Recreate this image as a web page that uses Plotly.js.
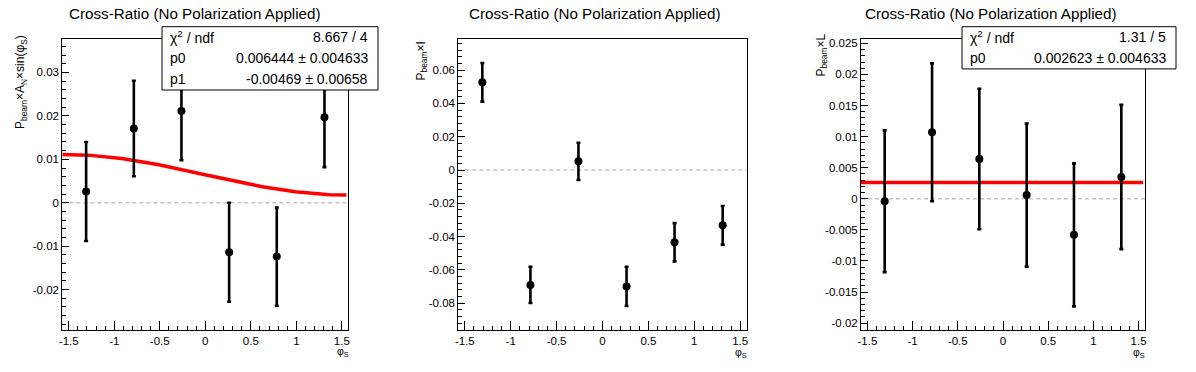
<!DOCTYPE html>
<html>
<head>
<meta charset="utf-8">
<script src="https://cdn.plot.ly/plotly-3.0.1.min.js"></script>
<style>
html,body{margin:0;padding:0;background:#fff;}
#chart{width:1196px;height:372px;}
</style>
</head>
<body>
<div id="chart"></div>
<script>
// ---- data ----
const phiS = [-1.309, -0.785, -0.262, 0.262, 0.785, 1.309];

const anSin = [0.0026, 0.0171, 0.0211, -0.0114, -0.0124, 0.0197];
const anSinErr = [0.0114, 0.0110, 0.0113, 0.0114, 0.0113, 0.0115];

const iVal = [0.0527, -0.0690, 0.0052, -0.0699, -0.0434, -0.0332];
const iErr = [0.0116, 0.0109, 0.0112, 0.0118, 0.0115, 0.0116];

const lVal = [-0.0004, 0.0107, 0.0064, 0.0006, -0.0058, 0.0035];
const lErr = [0.0114, 0.0111, 0.0113, 0.0115, 0.0115, 0.0116];

// fit parameters (from stat boxes)
const fit1 = {chi2: "8.667 / 4", p0: 0.006444, p0e: 0.004633, p1: -0.00469, p1e: 0.00658};
const fit3 = {chi2: "1.31 / 5", p0: 0.002623, p0e: 0.004633};
const fitRange = [-1.5708, 1.55];

// tick labels
const xTickVals = [-1.5, -1, -0.5, 0, 0.5, 1, 1.5];
const xTickText = ["-1.5", "-1", "-0.5", "0", "0.5", "1", "1.5"];
const y1TickVals = [-0.02, -0.01, 0, 0.01, 0.02, 0.03];
const y1TickText = ["-0.02", "-0.01", "0", "0.01", "0.02", "0.03"];
const y2TickVals = [-0.08, -0.06, -0.04, -0.02, 0, 0.02, 0.04, 0.06];
const y2TickText = ["-0.08", "-0.06", "-0.04", "-0.02", "0", "0.02", "0.04", "0.06"];
const y3TickVals = [-0.02, -0.015, -0.01, -0.005, 0, 0.005, 0.01, 0.015, 0.02, 0.025];
const y3TickText = ["-0.02", "-0.015", "-0.01", "-0.005", "0", "0.005", "0.01", "0.015", "0.02", "0.025"];

const titleText = "Cross-Ratio (No Polarization Applied)";
const yLabels = ["P<sub>beam</sub>×A<sub>N</sub>×sin(φ<sub>S</sub>)", "P<sub>beam</sub>×I", "P<sub>beam</sub>×L"];
const xLabel = "φ<sub>S</sub>";

// ---- geometry helpers ----
const W = 1196, H = 372;
const px = v => v / W;
const py = v => 1 - v / H;
const FONT = "Liberation Sans, Arial, Helvetica, sans-serif";

// fit curve for panel 1 (fit model evaluated with the stat-box parameters)
const fitX = [];
const nS = 100;
for (let i = 0; i <= nS; i++) fitX.push(fitRange[0] + (fitRange[1] - fitRange[0]) * i / nS);
const fitY = fitX.map(x => fit1.p0 + fit1.p1 * Math.sin(x));

function pts(y, e, xa, ya) {
  return {
    x: phiS, y: y, xaxis: xa, yaxis: ya, type: 'scatter', mode: 'markers',
    marker: {color: 'black', size: 8},
    error_y: {type: 'data', array: e, visible: true, color: 'black', thickness: 2.6, width: 2},
    showlegend: false, hoverinfo: 'x+y'
  };
}

const traces = [
  {x: fitX, y: fitY, xaxis: 'x', yaxis: 'y', type: 'scatter', mode: 'lines',
   line: {color: '#ff0000', width: 3.5}, showlegend: false},
  pts(anSin, anSinErr, 'x', 'y'),
  pts(iVal, iErr, 'x2', 'y2'),
  {x: fitRange, y: [fit3.p0, fit3.p0], xaxis: 'x3', yaxis: 'y3', type: 'scatter', mode: 'lines',
   line: {color: '#ff0000', width: 3.5}, showlegend: false},
  pts(lVal, lErr, 'x3', 'y3')
];

const yTop = 39, yBot = 330;
const panels = [
  {l: 62.3, r: 348.3, yr: [-0.0293, 0.0377], tv: y1TickVals, tt: y1TickText, minor: 0.002},
  {l: 458.3, r: 746.7, yr: [-0.0961, 0.0787], tv: y2TickVals, tt: y2TickText, minor: 0.004},
  {l: 861, r: 1145, yr: [-0.0211, 0.0257], tv: y3TickVals, tt: y3TickText, minor: 0.001}
];

const layout = {
  width: W, height: H,
  margin: {l: 0, r: 0, t: 0, b: 0},
  paper_bgcolor: '#fff', plot_bgcolor: '#fff',
  font: {family: FONT, size: 11.5, color: 'black'},
  showlegend: false,
  shapes: [], annotations: []
};

panels.forEach((p, i) => {
  const n = i === 0 ? '' : String(i + 1);
  layout['xaxis' + n] = {
    domain: [px(p.l), px(p.r)], anchor: 'y' + n,
    range: [-1.5708, 1.5708],
    tickmode: 'array', tickvals: xTickVals, ticktext: xTickText,
    ticks: 'inside', ticklen: 9, tickwidth: 1, tickcolor: 'black',
    minor: {tickmode: 'linear', tick0: 0, dtick: 0.1, ticks: 'inside', ticklen: 4.5, tickcolor: 'black', showgrid: false},
    showline: true, linecolor: 'black', linewidth: 1, mirror: true,
    showgrid: false, zeroline: false,
    tickfont: {family: FONT, size: 11.5, color: 'black'}
  };
  layout['yaxis' + n] = {
    domain: [py(yBot), py(yTop)], anchor: 'x' + n,
    range: p.yr,
    tickmode: 'array', tickvals: p.tv, ticktext: p.tt,
    ticks: 'inside', ticklen: 7, tickwidth: 1, tickcolor: 'black',
    minor: {tickmode: 'linear', tick0: 0, dtick: p.minor, ticks: 'inside', ticklen: 3.5, tickcolor: 'black', showgrid: false},
    showline: true, linecolor: 'black', linewidth: 1, mirror: true,
    showgrid: false, zeroline: false,
    tickfont: {family: FONT, size: 11.5, color: 'black'}
  };
  // dashed zero line
  layout.shapes.push({type: 'line', xref: 'x' + n + ' domain', yref: 'y' + n, x0: 0, x1: 1, y0: 0, y1: 0,
    line: {color: '#c4c4c4', width: 1.6, dash: '4px,3px'}, layer: 'below'});
});

// titles
[195, 595, 991].forEach(cx => {
  layout.annotations.push({text: titleText, xref: 'paper', yref: 'paper', x: px(cx), y: py(14),
    xanchor: 'center', yanchor: 'middle', showarrow: false, font: {family: FONT, size: 15.2, color: 'black'}});
});

// y labels
const yLab = [{x: 21, top: 33}, {x: 421, top: 40}, {x: 821, top: 32}];
yLab.forEach((o, i) => {
  layout.annotations.push({text: yLabels[i], xref: 'paper', yref: 'paper', x: px(o.x), y: py(o.top),
    xanchor: 'center', yanchor: 'top', textangle: -90, showarrow: false,
    font: {family: FONT, size: 12, color: 'black'}});
});

// x labels
[{x: 343, y: 352}, {x: 741, y: 353}, {x: 1139, y: 353}].forEach(o => {
  layout.annotations.push({text: xLabel, xref: 'paper', yref: 'paper', x: px(o.x), y: py(o.y),
    xanchor: 'center', yanchor: 'middle', showarrow: false, font: {family: FONT, size: 10.5, color: 'black'}});
});

// stat boxes
function statBox(l, r, t, rows) {
  const b = t + 21.1 * rows.length;
  layout.shapes.push({type: 'rect', xref: 'paper', yref: 'paper', x0: px(l), x1: px(r), y0: py(b), y1: py(t),
    line: {color: 'black', width: 1}, fillcolor: 'white', layer: 'above'});
  rows.forEach((row, k) => {
    const cy = t + 21.1 * (k + 0.5);
    layout.annotations.push({text: row[0], xref: 'paper', yref: 'paper', x: px(l + 6), y: py(cy),
      xanchor: 'left', yanchor: 'middle', showarrow: false, font: {family: FONT, size: 14, color: 'black'}});
    layout.annotations.push({text: row[1], xref: 'paper', yref: 'paper', x: px(r - 8), y: py(cy),
      xanchor: 'right', yanchor: 'middle', showarrow: false, font: {family: FONT, size: 14, color: 'black'}});
  });
}
statBox(162, 378, 26.7, [
  ["χ<sup>2</sup> / ndf", fit1.chi2],
  ["p0", fit1.p0 + " ± " + fit1.p0e],
  ["p1", fit1.p1 + " ± " + fit1.p1e]
]);
statBox(962, 1176, 26.7, [
  ["χ<sup>2</sup> / ndf", fit3.chi2],
  ["p0", fit3.p0 + " ± " + fit3.p0e]
]);

Plotly.newPlot('chart', traces, layout, {staticPlot: true, displayModeBar: false});
</script>
</body>
</html>
